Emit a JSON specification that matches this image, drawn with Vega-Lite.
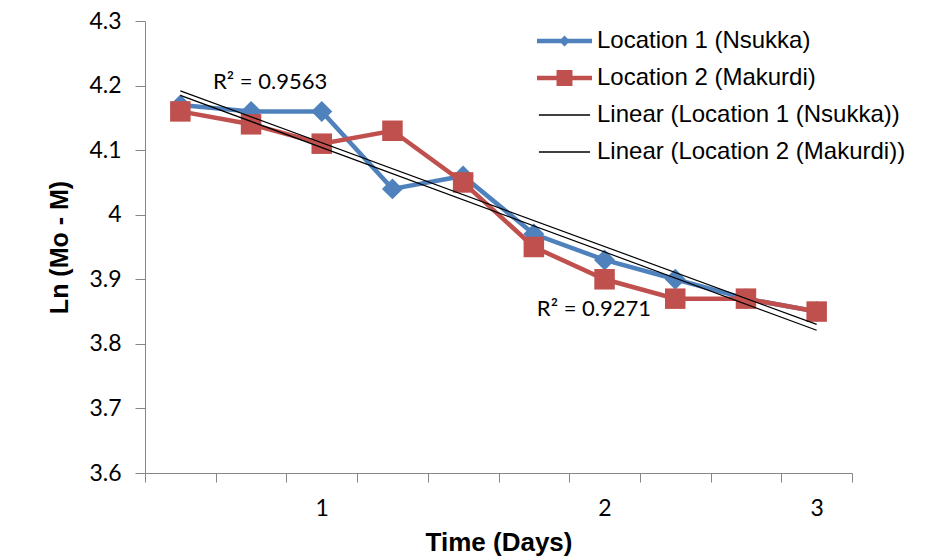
{
  "$schema": "https://vega.github.io/schema/vega-lite/v6.json",
  "width": 707,
  "height": 452,
  "autosize": "none",
  "padding": {"left": 145, "top": 21, "right": 76, "bottom": 85},
  "background": "white",
  "config": {
    "view": {"stroke": null},
    "axis": {
      "grid": false,
      "domainColor": "#868686",
      "tickColor": "#868686",
      "labelFont": "Lato",
      "labelFontSize": 23,
      "labelColor": "#000000",
      "titleFont": "Liberation Sans",
      "titleFontWeight": "bold",
      "titleColor": "#000000"
    }
  },
  "datasets": {
    "series": [
      {"t": 1, "value": 4.17, "series": "Location 1 (Nsukka)"},
      {"t": 2, "value": 4.16, "series": "Location 1 (Nsukka)"},
      {"t": 3, "value": 4.16, "series": "Location 1 (Nsukka)"},
      {"t": 4, "value": 4.04, "series": "Location 1 (Nsukka)"},
      {"t": 5, "value": 4.06, "series": "Location 1 (Nsukka)"},
      {"t": 6, "value": 3.97, "series": "Location 1 (Nsukka)"},
      {"t": 7, "value": 3.93, "series": "Location 1 (Nsukka)"},
      {"t": 8, "value": 3.90, "series": "Location 1 (Nsukka)"},
      {"t": 9, "value": 3.87, "series": "Location 1 (Nsukka)"},
      {"t": 10, "value": 3.85, "series": "Location 1 (Nsukka)"},
      {"t": 1, "value": 4.16, "series": "Location 2 (Makurdi)"},
      {"t": 2, "value": 4.14, "series": "Location 2 (Makurdi)"},
      {"t": 3, "value": 4.11, "series": "Location 2 (Makurdi)"},
      {"t": 4, "value": 4.13, "series": "Location 2 (Makurdi)"},
      {"t": 5, "value": 4.05, "series": "Location 2 (Makurdi)"},
      {"t": 6, "value": 3.95, "series": "Location 2 (Makurdi)"},
      {"t": 7, "value": 3.90, "series": "Location 2 (Makurdi)"},
      {"t": 8, "value": 3.87, "series": "Location 2 (Makurdi)"},
      {"t": 9, "value": 3.87, "series": "Location 2 (Makurdi)"},
      {"t": 10, "value": 3.85, "series": "Location 2 (Makurdi)"}
    ],
    "notes": [
      {"t": 2.27, "value": 4.205, "label": "R² = 0.9563"},
      {"t": 6.85, "value": 3.854, "label": "R² = 0.9271"}
    ]
  },
  "data": {"name": "series"},
  "encoding": {
    "x": {
      "field": "t",
      "type": "quantitative",
      "title": "Time (Days)",
      "scale": {"domain": [0.5, 10.5], "nice": false, "zero": false},
      "axis": {
        "values": [0.5, 1.5, 2.5, 3.5, 4.5, 5.5, 6.5, 7.5, 8.5, 9.5, 10.5],
        "labelExpr": "datum.value == 2.5 ? '1' : datum.value == 6.5 ? '2' : datum.value == 9.5 ? '3' : ''",
        "labelOffset": 35.3,
        "labelFlush": false,
        "labelOverlap": false,
        "tickSize": 9,
        "labelPadding": 15,
        "titlePadding": 9,
        "titleFontSize": 26
      }
    },
    "y": {
      "field": "value",
      "type": "quantitative",
      "title": "Ln (Mo - M)",
      "scale": {"domain": [3.6, 4.3], "nice": false, "zero": false},
      "axis": {
        "values": [3.6, 3.7, 3.8, 3.9, 4.0, 4.1, 4.2, 4.3],
        "format": "~g",
        "tickSize": 10,
        "labelPadding": 14,
        "titlePadding": 16,
        "titleFontSize": 25
      }
    }
  },
  "layer": [
    {
      "transform": [{"filter": {"field": "series", "equal": "Location 1 (Nsukka)"}}],
      "mark": {"type": "line", "strokeWidth": 4.5},
      "encoding": {
        "color": {
          "field": "series",
          "type": "nominal",
          "scale": {
            "domain": ["Location 1 (Nsukka)", "Location 2 (Makurdi)", "Linear (Location 1 (Nsukka))", "Linear (Location 2 (Makurdi))"],
            "range": ["#4F81BD", "#C0504D", "#000000", "#000000"]
          },
          "legend": {
            "title": null,
            "orient": "none",
            "legendX": 392,
            "legendY": 7,
            "padding": 0,
            "symbolSize": 3025,
            "symbolStrokeWidth": 0,
            "symbolOpacity": 1,
            "clipHeight": 26,
            "rowPadding": 11,
            "labelOffset": 5,
            "labelFont": "Liberation Sans",
            "labelFontSize": 24,
            "labelColor": "#000000",
            "labelLimit": 500,
            "encode": {
              "symbols": {
                "update": {
                  "shape": {"signal": "datum.value === 'Location 1 (Nsukka)' ? 'M-1,-0.082H1V0.082H-1ZM0,-0.2L0.2,0L0,0.2L-0.2,0Z' : datum.value === 'Location 2 (Makurdi)' ? 'M-1,-0.082H1V0.082H-1ZM-0.29,-0.29H0.29V0.29H-0.29Z' : 'M-0.93,-0.025H0.93V0.025H-0.93Z'"},
                  "fill": {"signal": "datum.value === 'Location 1 (Nsukka)' ? '#4F81BD' : datum.value === 'Location 2 (Makurdi)' ? '#C0504D' : '#000000'"},
                  "stroke": {"value": "transparent"},
                  "strokeWidth": {"value": 0}
                }
              }
            }
          }
        }
      }
    },
    {
      "transform": [{"filter": {"field": "series", "equal": "Location 1 (Nsukka)"}}],
      "mark": {"type": "point", "shape": "diamond", "filled": true, "size": 440, "color": "#4F81BD", "opacity": 1}
    },
    {
      "transform": [{"filter": {"field": "series", "equal": "Location 2 (Makurdi)"}}],
      "mark": {"type": "line", "strokeWidth": 4.5, "color": "#C0504D"}
    },
    {
      "transform": [{"filter": {"field": "series", "equal": "Location 2 (Makurdi)"}}],
      "mark": {"type": "point", "shape": "square", "filled": true, "size": 420, "color": "#C0504D", "opacity": 1}
    },
    {
      "transform": [{"regression": "value", "on": "t", "groupby": ["series"]}],
      "mark": {"type": "line", "color": "#000000", "strokeWidth": 1.2},
      "encoding": {"detail": {"field": "series", "type": "nominal"}}
    },
    {
      "data": {"name": "notes"},
      "mark": {"type": "text", "font": "Lato", "fontSize": 22, "color": "#000000", "align": "center", "baseline": "middle"},
      "encoding": {"text": {"field": "label", "type": "nominal"}}
    }
  ]
}
